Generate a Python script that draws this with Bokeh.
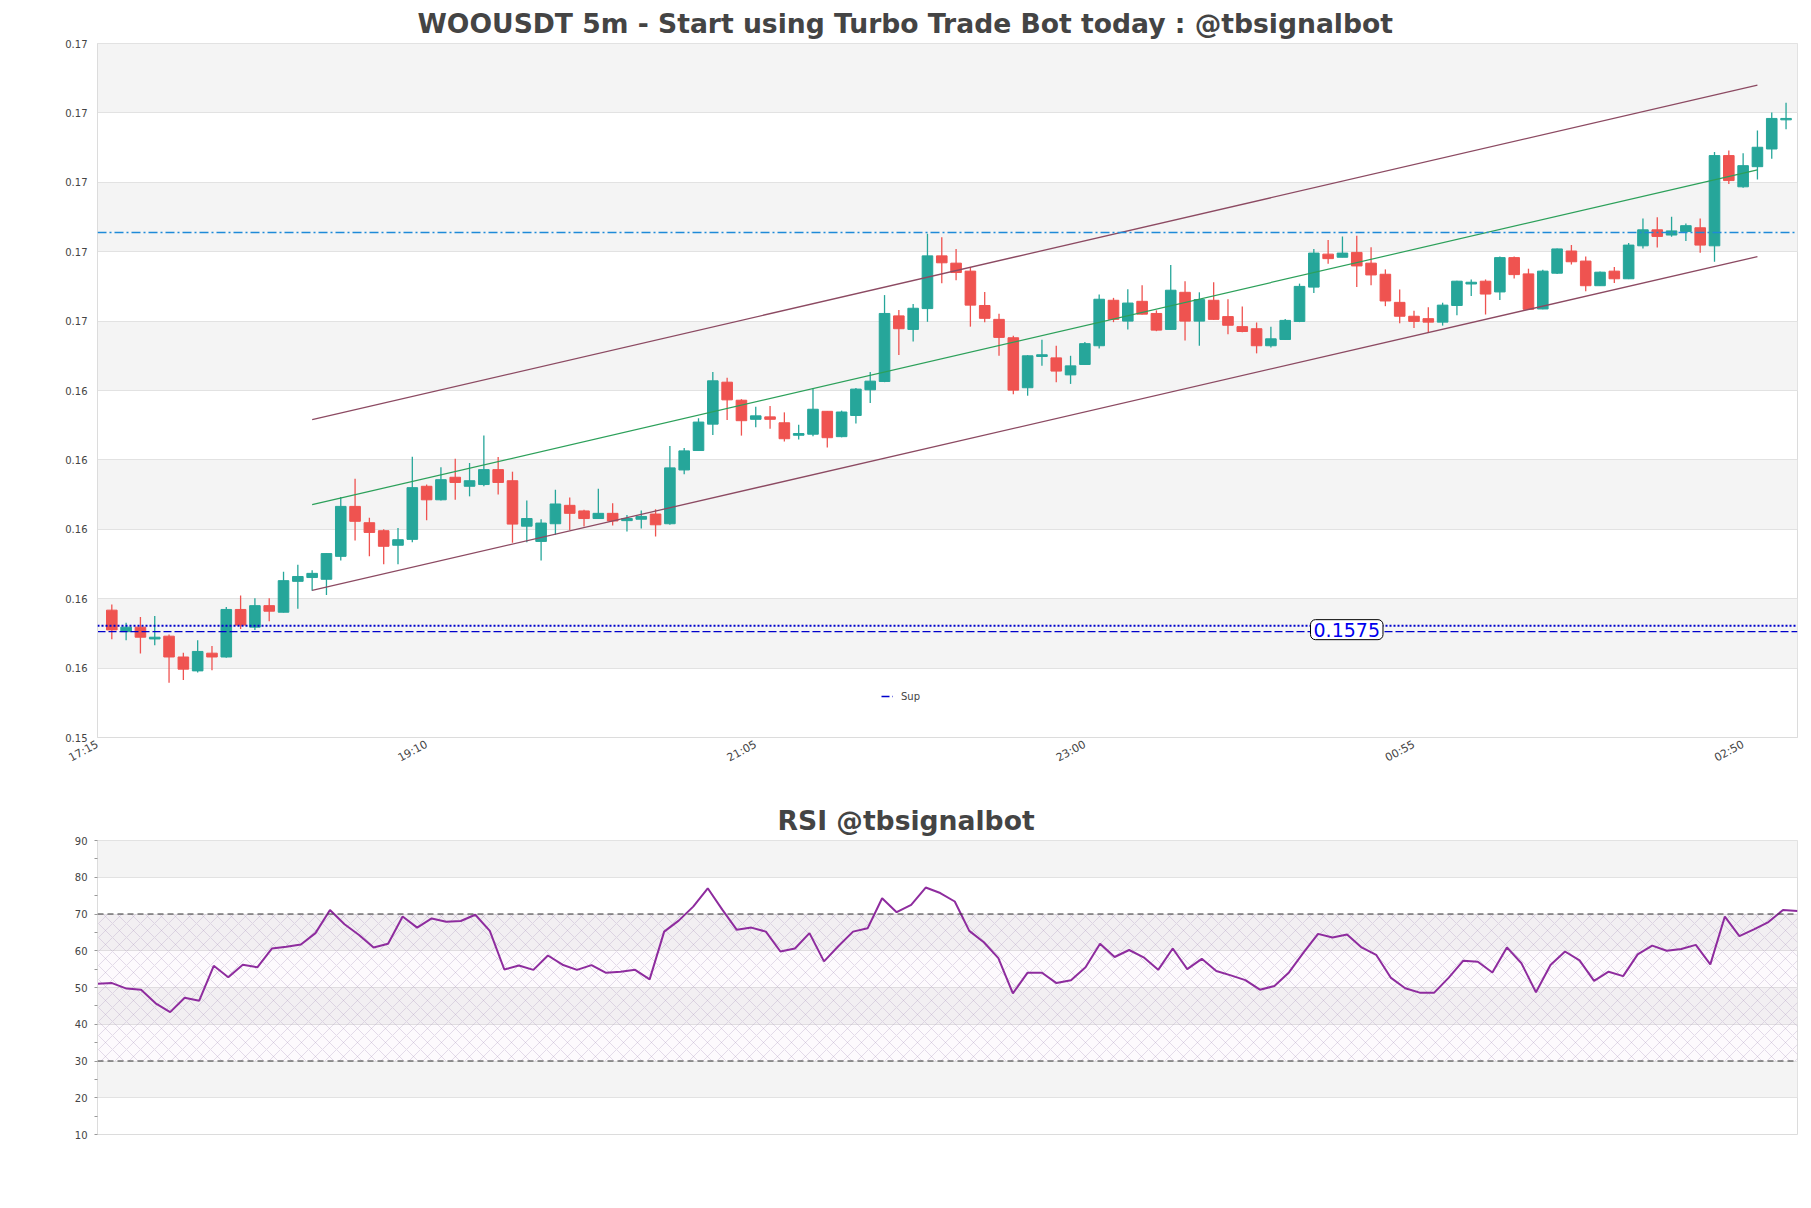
from bokeh.plotting import figure
from bokeh.models import (Range1d, FixedTicker, PrintfTickFormatter, Span, Label,
                          Legend, LegendItem, BoxAnnotation)
from bokeh.layouts import column
from bokeh.embed import file_html
from bokeh.resources import INLINE

FONT = "DejaVu Sans"

# ---------------- data ----------------
opens = [0.15812, 0.15750, 0.15763, 0.15729, 0.15737, 0.15677, 0.15637, 0.15688, 0.15677, 0.15814,
         0.15763, 0.15825, 0.15806, 0.15895, 0.15906, 0.15901, 0.15967, 0.16111, 0.16064, 0.16041,
         0.15999, 0.16016, 0.16169, 0.16130, 0.16195, 0.16169, 0.16174, 0.16217, 0.16185, 0.16054,
         0.16010, 0.16061, 0.16114, 0.16098, 0.16076, 0.16091, 0.16070, 0.16074, 0.16089, 0.16061,
         0.16216, 0.16272, 0.16348, 0.16469, 0.16417, 0.16362, 0.16369, 0.16352, 0.16316, 0.16319,
         0.16385, 0.16312, 0.16373, 0.16447, 0.16471, 0.16660, 0.16621, 0.16681, 0.16833, 0.16812,
         0.16789, 0.16690, 0.16650, 0.16597, 0.16453, 0.16543, 0.16539, 0.16490, 0.16520, 0.16574,
         0.16705, 0.16645, 0.16702, 0.16667, 0.16621, 0.16728, 0.16645, 0.16705, 0.16658, 0.16629,
         0.16623, 0.16574, 0.16592, 0.16644, 0.16743, 0.16838, 0.16829, 0.16843, 0.16812, 0.16780,
         0.16699, 0.16659, 0.16652, 0.16642, 0.16690, 0.16752, 0.16760, 0.16729, 0.16828, 0.16781,
         0.16680, 0.16783, 0.16847, 0.16818, 0.16747, 0.16789, 0.16767, 0.16862, 0.16908, 0.16893,
         0.16903, 0.16914, 0.16862, 0.17122, 0.17032, 0.17090, 0.17141, 0.17225]
highs = [0.15828, 0.15776, 0.15792, 0.15795, 0.15742, 0.15689, 0.15725, 0.15709, 0.15821, 0.15854,
         0.15846, 0.15846, 0.15923, 0.15943, 0.15927, 0.15976, 0.16138, 0.16191, 0.16078, 0.16045,
         0.16049, 0.16254, 0.16174, 0.16224, 0.16248, 0.16236, 0.16315, 0.16253, 0.16211, 0.16128,
         0.16074, 0.16159, 0.16137, 0.16101, 0.16162, 0.16120, 0.16086, 0.16099, 0.16103, 0.16285,
         0.16279, 0.16365, 0.16498, 0.16482, 0.16420, 0.16398, 0.16400, 0.16382, 0.16346, 0.16452,
         0.16386, 0.16387, 0.16452, 0.16498, 0.16720, 0.16677, 0.16694, 0.16897, 0.16887, 0.16853,
         0.16801, 0.16729, 0.16666, 0.16603, 0.16547, 0.16591, 0.16574, 0.16545, 0.16585, 0.16722,
         0.16712, 0.16737, 0.16748, 0.16676, 0.16807, 0.16760, 0.16728, 0.16757, 0.16708, 0.16687,
         0.16641, 0.16629, 0.16651, 0.16753, 0.16853, 0.16879, 0.16889, 0.16891, 0.16858, 0.16794,
         0.16736, 0.16675, 0.16685, 0.16698, 0.16761, 0.16765, 0.16765, 0.16831, 0.16831, 0.16796,
         0.16793, 0.16854, 0.16864, 0.16831, 0.16788, 0.16801, 0.16870, 0.16941, 0.16944, 0.16946,
         0.16926, 0.16941, 0.17132, 0.17137, 0.17129, 0.17194, 0.17246, 0.17274]
lows = [0.15728, 0.15725, 0.15687, 0.15711, 0.15603, 0.15611, 0.15632, 0.15639, 0.15675, 0.15758,
        0.15755, 0.15780, 0.15805, 0.15816, 0.15868, 0.15856, 0.15955, 0.16013, 0.15967, 0.15944,
        0.15944, 0.16008, 0.16071, 0.16128, 0.16130, 0.16140, 0.16169, 0.16145, 0.16006, 0.16008,
        0.15955, 0.16029, 0.16043, 0.16053, 0.16075, 0.16056, 0.16039, 0.16047, 0.16024, 0.16058,
        0.16204, 0.16271, 0.16317, 0.16360, 0.16315, 0.16339, 0.16335, 0.16298, 0.16304, 0.16313,
        0.16281, 0.16310, 0.16350, 0.16409, 0.16469, 0.16547, 0.16586, 0.16643, 0.16754, 0.16763,
        0.16629, 0.16642, 0.16545, 0.16434, 0.16430, 0.16516, 0.16469, 0.16464, 0.16520, 0.16566,
        0.16642, 0.16621, 0.16664, 0.16616, 0.16620, 0.16589, 0.16574, 0.16649, 0.16607, 0.16613,
        0.16552, 0.16569, 0.16592, 0.16642, 0.16726, 0.16810, 0.16829, 0.16743, 0.16748, 0.16688,
        0.16639, 0.16625, 0.16612, 0.16632, 0.16662, 0.16717, 0.16664, 0.16706, 0.16768, 0.16678,
        0.16679, 0.16781, 0.16808, 0.16731, 0.16746, 0.16755, 0.16766, 0.16854, 0.16857, 0.16888,
        0.16876, 0.16842, 0.16816, 0.17040, 0.17029, 0.17053, 0.17113, 0.17198]
closes = [0.15755, 0.15763, 0.15734, 0.15734, 0.15677, 0.15642, 0.15693, 0.15677, 0.15814, 0.15769,
          0.15825, 0.15809, 0.15897, 0.15909, 0.15918, 0.15975, 0.16111, 0.16068, 0.16036, 0.15996,
          0.16015, 0.16165, 0.16130, 0.16188, 0.16180, 0.16185, 0.16217, 0.16180, 0.16060, 0.16076,
          0.16063, 0.16118, 0.16091, 0.16076, 0.16091, 0.16069, 0.16076, 0.16082, 0.16058, 0.16222,
          0.16271, 0.16354, 0.16473, 0.16418, 0.16358, 0.16372, 0.16362, 0.16306, 0.16321, 0.16391,
          0.16309, 0.16383, 0.16449, 0.16472, 0.16667, 0.16623, 0.16682, 0.16833, 0.16813, 0.16785,
          0.16691, 0.16653, 0.16598, 0.16446, 0.16545, 0.16548, 0.16501, 0.16516, 0.16580, 0.16708,
          0.16650, 0.16697, 0.16665, 0.16619, 0.16734, 0.16645, 0.16707, 0.16650, 0.16633, 0.16615,
          0.16574, 0.16594, 0.16647, 0.16745, 0.16841, 0.16825, 0.16841, 0.16804, 0.16778, 0.16703,
          0.16659, 0.16644, 0.16642, 0.16691, 0.16760, 0.16757, 0.16723, 0.16828, 0.16779, 0.16679,
          0.16789, 0.16853, 0.16816, 0.16747, 0.16786, 0.16767, 0.16864, 0.16908, 0.16889, 0.16905,
          0.16920, 0.16864, 0.17122, 0.17050, 0.17093, 0.17146, 0.17229, 0.17229]

rsi = [51.0, 51.2, 49.7, 49.4, 45.7, 43.3, 47.2, 46.4, 55.9, 52.8,
       56.2, 55.5, 60.6, 61.1, 61.7, 64.8, 71.1, 67.2, 64.3, 60.9,
       61.9, 69.3, 66.3, 68.8, 67.9, 68.1, 69.8, 65.4, 54.9, 56.0,
       54.8, 58.7, 56.2, 54.8, 56.1, 54.0, 54.3, 54.8, 52.2, 65.2,
       68.2, 72.0, 77.0, 71.2, 65.7, 66.3, 65.2, 59.8, 60.6, 64.8,
       57.1, 61.3, 65.2, 66.1, 74.3, 70.5, 72.5, 77.2, 75.7, 73.4,
       65.4, 62.3, 58.0, 48.4, 54.0, 54.0, 51.2, 52.0, 55.5, 61.9,
       58.3, 60.2, 58.2, 54.8, 60.6, 55.0, 57.8, 54.5, 53.3, 52.0,
       49.4, 50.4, 54.1, 59.5, 64.6, 63.6, 64.4, 60.9, 58.9, 52.7,
       49.8, 48.6, 48.6, 52.7, 57.3, 57.0, 54.1, 60.9, 56.6, 48.7,
       56.1, 59.8, 57.4, 51.8, 54.3, 53.1, 59.0, 61.4, 60.0, 60.5,
       61.6, 56.3, 69.3, 64.0, 65.8, 67.8, 71.1, 70.8]

tick_pos = [-1, 22, 45, 68, 91, 114]
tick_labels = ["17:15", "19:10", "21:05", "23:00", "00:55", "02:50"]

price_ticks = [0.15445, 0.15645, 0.15845, 0.16045, 0.16245, 0.16445,
               0.16645, 0.16845, 0.17045, 0.17245, 0.17445]

sup_level = 0.1575
sup_dotted = 0.15767
res_level = 0.169

chan_x = [14, 115]
chan_upper = [0.16361, 0.17325]
chan_mid = [0.16116, 0.17081]
chan_lower = [0.15869, 0.16831]

rsi_ticks = [10, 20, 30, 40, 50, 60, 70, 80, 90]
rsi_minor = [15, 25, 35, 45, 55, 65, 75, 85]

# ---------------- main chart ----------------
UP = "#26a69a"
DOWN = "#ef5350"
idx = list(range(len(opens)))
colors = [UP if c >= o else DOWN for o, c in zip(opens, closes)]
tops = [max(o, c) for o, c in zip(opens, closes)]
bots = [min(o, c) for o, c in zip(opens, closes)]


def style_title(fig, text, left_offset):
    fig.title.text = text
    fig.title.align = "left"
    fig.title.text_font = FONT
    fig.title.text_font_size = "26.6px"
    fig.title.text_font_style = "bold"
    fig.title.text_color = "#444444"
    fig.title.standoff = 9
    fig.title.offset = left_offset


x_lo, x_hi = -1, 117.8
p = figure(frame_width=1700, frame_height=694,
           x_range=Range1d(x_lo, x_hi), y_range=Range1d(price_ticks[0], price_ticks[-1]),
           output_backend="svg", toolbar_location=None,
           min_border_left=97, min_border_right=6, min_border_top=43, min_border_bottom=60)
style_title(p, "WOOUSDT 5m - Start using Turbo Trade Bot today : @tbsignalbot", 320)

p.background_fill_color = "white"
p.border_fill_color = "white"
p.outline_line_color = "#dcdcdc"
p.xgrid.grid_line_color = None
p.ygrid.grid_line_color = "#e2e2e2"
p.ygrid.band_fill_color = "#f4f4f4"
p.ygrid.band_fill_alpha = 1.0

p.yaxis.ticker = FixedTicker(ticks=price_ticks, minor_ticks=[])
p.yaxis.formatter = PrintfTickFormatter(format="%.2f")
p.xaxis.ticker = FixedTicker(ticks=tick_pos, minor_ticks=[])
p.xaxis.major_label_overrides = {k: v for k, v in zip(tick_pos, tick_labels)}
p.xaxis.major_label_orientation = 0.5
for ax in (p.xaxis[0], p.yaxis[0]):
    ax.major_label_text_font = FONT
    ax.major_label_text_color = "#444444"
    ax.axis_line_color = "#dcdcdc"
    ax.major_tick_line_color = None
    ax.minor_tick_line_color = None
    ax.major_tick_out = 0
    ax.major_tick_in = 0
p.yaxis.major_label_text_font_size = "10px"
p.xaxis.major_label_text_font_size = "11px"
p.yaxis.major_label_standoff = 10
p.xaxis.major_label_standoff = 6

# candles
p.segment(x0=idx, y0=lows, x1=idx, y1=highs, line_color=colors, line_width=1.3)
p.vbar(x=idx, width=0.74, top=tops, bottom=bots, fill_color=colors, line_color=colors, line_width=1)

# channel
p.line(chan_x, chan_upper, line_color="#8c4a62", line_width=1.3)
p.line(chan_x, chan_lower, line_color="#8c4a62", line_width=1.3)
p.line(chan_x, chan_mid, line_color="#2ca05a", line_width=1.2)

# levels
p.add_layout(Span(location=res_level, dimension="width", line_color="#1e8ad8",
                  line_dash="9 3 2 3", line_width=1.5))
p.add_layout(Span(location=sup_dotted, dimension="width", line_color="#0000cc",
                  line_dash="2 2", line_width=2.2))
sup_r = p.line([x_lo, x_hi], [sup_level, sup_level], line_color="#0000cc",
               line_dash="8 3", line_width=1.4)
p.add_layout(Label(x=86.3, y=sup_level, y_offset=2, text=f"{sup_level:.4f}", text_align="center",
                   text_baseline="middle", text_color="#0000ee", text_font=FONT,
                   text_font_size="19px", background_fill_color="white",
                   border_line_color="black", border_radius=5, padding=3))

legend = Legend(items=[LegendItem(label="Sup", renderers=[sup_r])], location=(784, 35),
                glyph_width=12, glyph_height=12, label_text_font=FONT,
                label_text_font_size="10px", label_standoff=8, padding=4,
                background_fill_alpha=0, border_line_color=None)
p.add_layout(legend)

# ---------------- RSI chart ----------------
ridx = list(range(len(rsi)))
r = figure(frame_width=1700, frame_height=294,
           x_range=Range1d(ridx[0], ridx[-1]), y_range=Range1d(rsi_ticks[0], rsi_ticks[-1]),
           output_backend="svg", toolbar_location=None,
           min_border_left=97, min_border_right=6, min_border_top=43, min_border_bottom=40)
style_title(r, "RSI @tbsignalbot", 680)
r.outline_line_color = "#dcdcdc"
r.xaxis.visible = False
r.xgrid.grid_line_color = None
r.ygrid.grid_line_color = "#e2e2e2"
r.ygrid.band_fill_color = "#f4f4f4"
r.ygrid.band_fill_alpha = 1.0
r.yaxis.ticker = FixedTicker(ticks=rsi_ticks, minor_ticks=rsi_minor)
r.yaxis.major_label_text_font = FONT
r.yaxis.major_label_text_font_size = "10px"
r.yaxis.major_label_text_color = "#444444"
r.yaxis.axis_line_color = "#dcdcdc"
r.yaxis.major_tick_line_color = "#999999"
r.yaxis.minor_tick_line_color = "#999999"
r.yaxis.major_tick_out = 3
r.yaxis.major_tick_in = 0
r.yaxis.minor_tick_out = 3
r.yaxis.minor_tick_in = 0
r.yaxis.major_label_standoff = 7

r.add_layout(BoxAnnotation(bottom=30, top=70, fill_color="#9c27b0", fill_alpha=0.025,
                           hatch_pattern="diagonal_cross", hatch_color="#b4a0c4",
                           hatch_alpha=0.6, hatch_scale=14, hatch_weight=0.6,
                           line_color=None, level="underlay"))
r.add_layout(Span(location=70, dimension="width", line_color="#333333", line_dash="6 4", line_width=1.2))
r.add_layout(Span(location=30, dimension="width", line_color="#333333", line_dash="6 4", line_width=1.2))
r.line(ridx, rsi, line_color="#8e2c9e", line_width=2)

layout = column(p, r)
open("out.html", "w").write(file_html(layout, INLINE))
